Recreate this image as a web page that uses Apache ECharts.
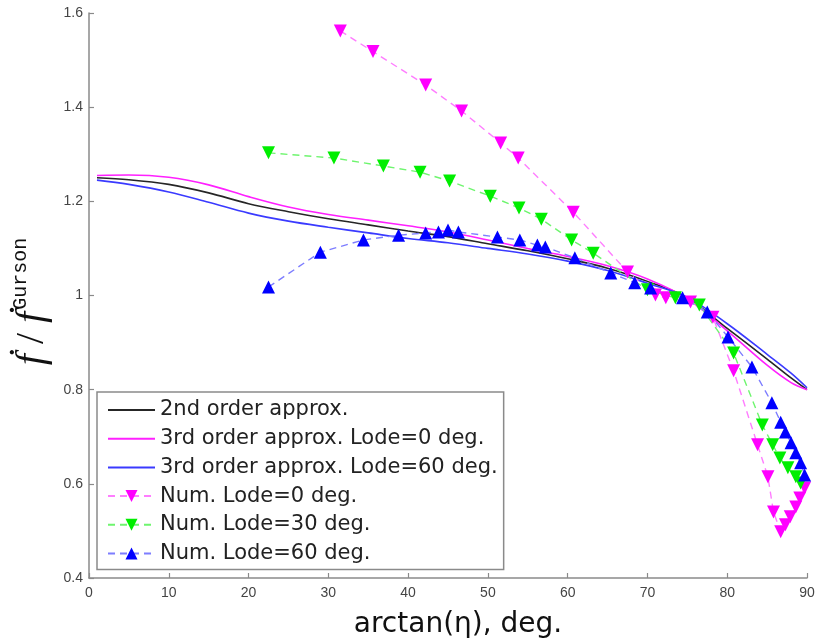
<!DOCTYPE html>
<html><head><meta charset="utf-8">
<script src="https://cdn.jsdelivr.net/npm/echarts@6/dist/echarts.min.js"></script>
<style>html,body{margin:0;padding:0;background:#fff}#c{width:816px;height:642px}</style>
</head><body><div id="c"></div>
<script>
// Smooth approximation curves (shared x samples, deg.)
const approxX = [1, 5, 10, 15, 20, 25, 30, 35, 40, 45, 50, 55, 60, 65, 70, 75, 80, 85, 88, 90];
const approx2nd = [1.250, 1.246, 1.236, 1.218, 1.195, 1.178, 1.163, 1.150, 1.137, 1.125, 1.110, 1.095, 1.078, 1.058, 1.030, 0.995, 0.930, 0.865, 0.825, 0.800];
const approx3rdLode0 = [1.255, 1.256, 1.251, 1.235, 1.210, 1.188, 1.172, 1.160, 1.148, 1.135, 1.118, 1.100, 1.083, 1.063, 1.035, 0.993, 0.925, 0.852, 0.815, 0.800];
const approx3rdLode60 = [1.245, 1.236, 1.220, 1.198, 1.175, 1.158, 1.145, 1.133, 1.121, 1.112, 1.100, 1.088, 1.073, 1.053, 1.026, 0.996, 0.940, 0.875, 0.835, 0.804];

// Numerical results
const numLode0X = [31.5, 35.6, 42.2, 46.7, 51.6, 53.8, 60.7, 67.5, 71.0, 72.3, 75.4, 78.2, 80.8, 83.8, 85.1, 85.8, 86.7, 87.3, 87.9, 88.6, 89.1, 89.7];
const numLode0Y = [1.562, 1.518, 1.447, 1.392, 1.324, 1.292, 1.177, 1.050, 1.001, 0.995, 0.986, 0.954, 0.840, 0.683, 0.615, 0.540, 0.498, 0.513, 0.530, 0.551, 0.570, 0.591];
const numLode30X = [22.5, 30.7, 36.9, 41.5, 45.2, 50.3, 53.9, 56.7, 60.5, 63.2, 70.0, 73.5, 76.5, 80.8, 84.4, 85.7, 86.6, 87.6, 88.6, 89.2];
const numLode30Y = [1.303, 1.292, 1.275, 1.262, 1.243, 1.211, 1.186, 1.162, 1.118, 1.090, 1.012, 0.995, 0.980, 0.878, 0.725, 0.683, 0.655, 0.634, 0.615, 0.602];
const numLode60X = [22.5, 29.0, 34.4, 38.8, 42.2, 43.8, 45.0, 46.3, 51.2, 54.0, 56.2, 57.2, 60.9, 65.4, 68.4, 70.4, 74.4, 77.5, 80.1, 83.1, 85.6, 86.7, 87.3, 88.0, 88.6, 89.2, 89.7];
const numLode60Y = [1.018, 1.092, 1.118, 1.128, 1.133, 1.135, 1.139, 1.135, 1.124, 1.118, 1.107, 1.103, 1.080, 1.048, 1.027, 1.016, 0.995, 0.965, 0.912, 0.848, 0.772, 0.731, 0.710, 0.687, 0.666, 0.645, 0.619];

const seriesNames = ['2nd order approx.', '3rd order approx. Lode=0 deg.', '3rd order approx. Lode=60 deg.', 'Num. Lode=0 deg.', 'Num. Lode=30 deg.', 'Num. Lode=60 deg.'];

const pair = (xs, ys) => xs.map((x, i) => [x, ys[i]]);

const chart = echarts.init(document.getElementById('c'), null, {renderer: 'canvas'});

function curve(name, ys, color) {
  return {
    name, type: 'line', data: pair(approxX, ys), smooth: 0.35,
    symbol: 'none',
    itemStyle: {color}, lineStyle: {color, width: 1.6}, z: 2
  };
}
function num(name, xs, ys, color, lineColor, rot) {
  return {
    name, type: 'line', data: pair(xs, ys), symbol: 'triangle', symbolSize: 13, symbolRotate: rot,
    showAllSymbol: true,
    itemStyle: {color}, lineStyle: {color: lineColor, width: 1.4, type: [7, 5]}, z: 3
  };
}

const legendData = seriesNames.map((name, i) => i < 3 ? {name, itemStyle: {opacity: 0}} : {name});

const axisColor = '#8a8a8a';
chart.setOption({
  animation: false,
  backgroundColor: '#fff',
  grid: {left: 89, right: 9, top: 13, bottom: 64, containLabel: false, outerBoundsMode: 'none'},
  legend: {
    orient: 'vertical', left: 97, top: 392,
    backgroundColor: '#fff', borderColor: '#8a8a8a', borderWidth: 1.5, borderRadius: 0,
    padding: [7, 6, 5, 10],
    itemWidth: 47, itemHeight: 15, itemGap: 6.7,
    selectedMode: false,
    textStyle: {fontFamily: 'DejaVu Sans', fontSize: 21, color: '#222', lineHeight: 22},
    data: legendData
  },
  xAxis: {
    type: 'value', min: 0, max: 90, interval: 10,
    axisLine: {show: true, onZero: false, lineStyle: {color: axisColor, width: 1.5}},
    axisTick: {show: true, inside: true, length: 5, lineStyle: {color: axisColor, width: 1.2}},
    axisLabel: {fontFamily: 'Liberation Sans', fontSize: 14, color: '#444', margin: 8},
    splitLine: {show: false},
    name: 'arctan(η), deg.', nameLocation: 'middle', nameGap: 33,
    nameTextStyle: {fontFamily: 'DejaVu Sans', fontSize: 28, color: '#111', padding: [0, 0, 0, 20]}
  },
  yAxis: {
    type: 'value', min: 0.4, max: 1.6, interval: 0.2,
    axisLine: {show: true, onZero: false, lineStyle: {color: axisColor, width: 1.5}},
    axisTick: {show: true, inside: true, length: 5, lineStyle: {color: axisColor, width: 1.2}},
    axisLabel: {fontFamily: 'Liberation Sans', fontSize: 14, color: '#444', margin: 6},
    splitLine: {show: false},
    name: '{f|ḟ}{s| / }{f|ḟ}{g|Gurson}', nameLocation: 'middle', nameRotate: 90, nameGap: 36,
    nameTextStyle: {
      color: '#111', padding: [0, 12, 0, 0],
      rich: {
        f: {fontFamily: 'Liberation Serif', fontStyle: 'italic', fontSize: 40, color: '#111'},
        s: {fontFamily: 'Liberation Serif', fontSize: 40, color: '#111'},
        g: {fontFamily: 'Liberation Mono', fontSize: 20, color: '#111', padding: [0, 0, 22, 2]}
      }
    }
  },
  series: [
    curve(seriesNames[0], approx2nd, '#262626'),
    curve(seriesNames[1], approx3rdLode0, '#ff20ff'),
    curve(seriesNames[2], approx3rdLode60, '#3a3aff'),
    num(seriesNames[3], numLode0X, numLode0Y, '#ff00ff', '#ff7dff', 180),
    num(seriesNames[4], numLode30X, numLode30Y, '#00ee00', '#6ef56e', 180),
    num(seriesNames[5], numLode60X, numLode60Y, '#0000ff', '#7d7dff', 0)
  ]
});
</script></body></html>
